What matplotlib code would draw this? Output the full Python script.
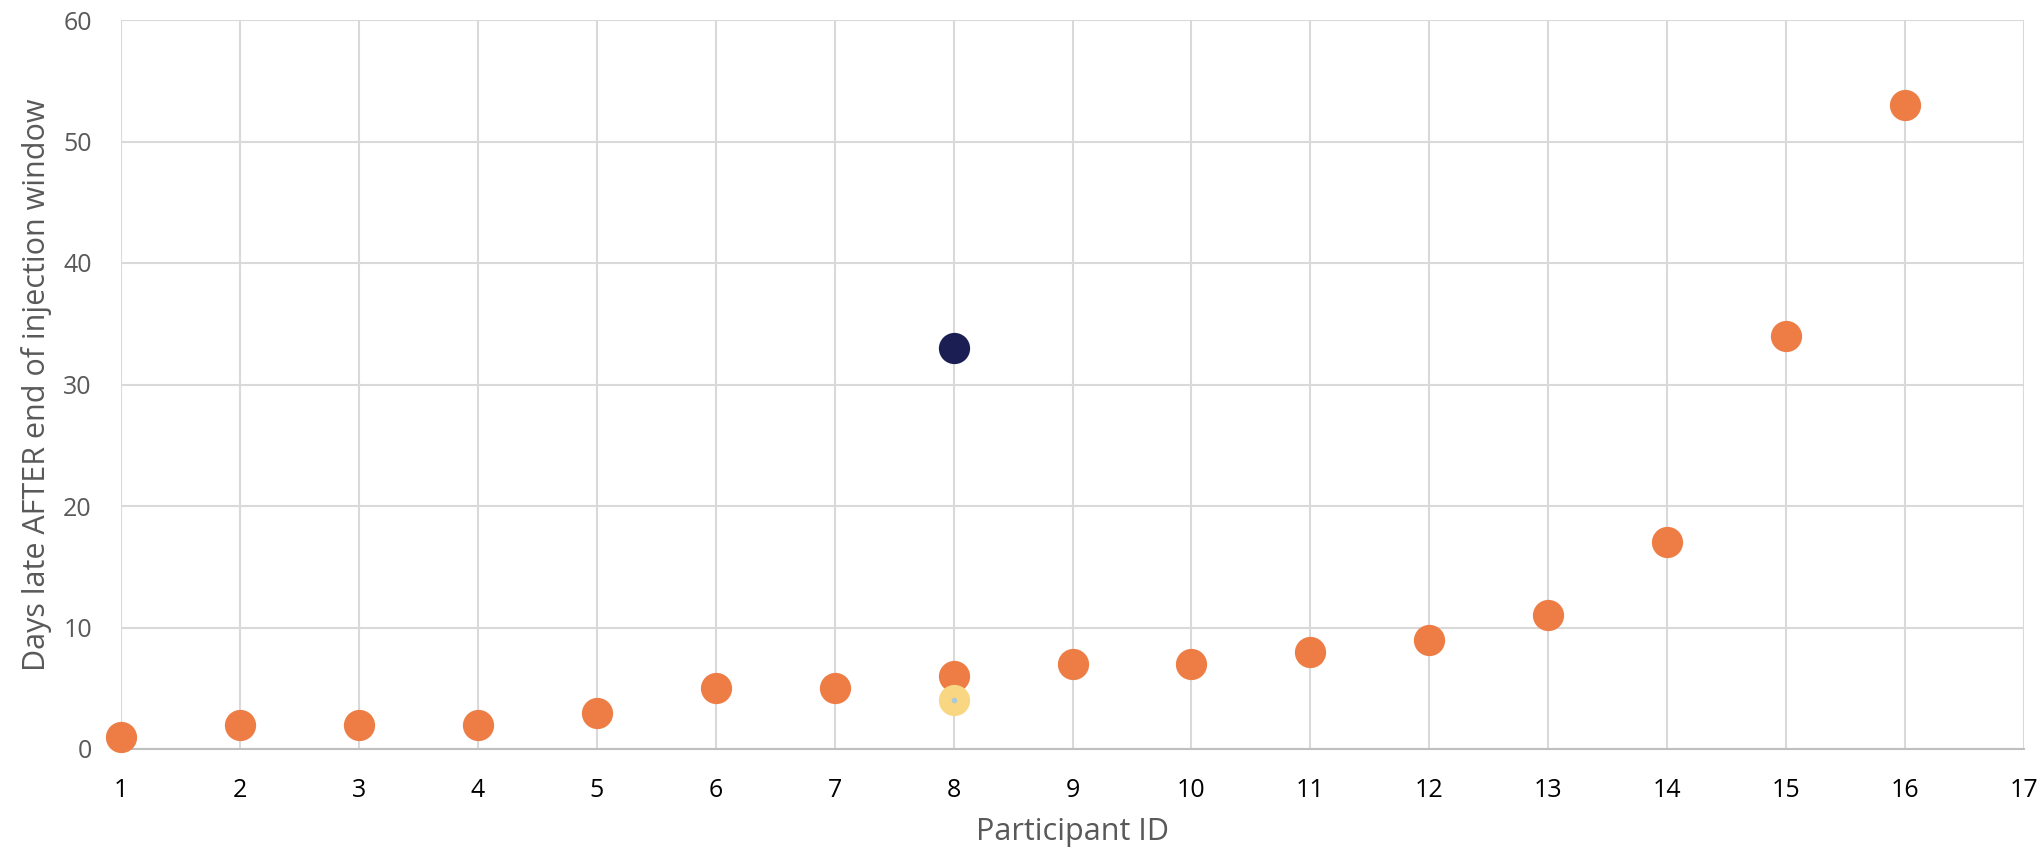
import matplotlib
matplotlib.use("Agg")
import matplotlib.pyplot as plt

# Data
participant_ids = list(range(1, 17))
days_late = [1, 2, 2, 2, 3, 5, 5, 6, 7, 7, 8, 9, 11, 17, 34, 53]
navy_x = [8]
navy_y = [33]
yellow_x = [8]
yellow_y = [4]
blue_x = [8]
blue_y = [4]
x_ticks = list(range(1, 18))
y_ticks = [0, 10, 20, 30, 40, 50, 60]

plt.rcParams['font.family'] = ['Open Sans', 'DejaVu Sans']

W, H, DPI = 2043, 858, 100
fig = plt.figure(figsize=(W / DPI, H / DPI), dpi=DPI)
ax = fig.add_axes([121 / W, 1 - 749 / H, (2024 - 121) / W, (749 - 20) / H])

ms = 22.5
ax.plot(participant_ids, days_late, 'o', color='#ED7D45', markersize=ms, markeredgewidth=0, zorder=3, clip_on=False)
ax.plot(navy_x, navy_y, 'o', color='#1A1E52', markersize=ms, markeredgewidth=0, zorder=4, clip_on=False)
ax.plot(yellow_x, yellow_y, 'o', color='#F8D682', markersize=ms, markeredgewidth=0, zorder=4, clip_on=False)
ax.plot(blue_x, blue_y, 'o', color='#A9C8D8', markersize=4, markeredgewidth=0, zorder=5, clip_on=False)

ax.set_xlim(1, 17)
ax.set_ylim(0, 60)
ax.set_xticks(x_ticks)
ax.set_yticks(y_ticks)
ax.grid(True, color='#D9D9D9', linewidth=1.5, zorder=0)
ax.set_axisbelow(True)
for s in ['top', 'right', 'left']:
    ax.spines[s].set_visible(False)
ax.spines['bottom'].set_color('#BFBFBF')
ax.spines['bottom'].set_linewidth(1.5)
ax.spines['bottom'].set_zorder(2)
ax.tick_params(axis='both', length=0)
ax.tick_params(axis='x', labelsize=18, labelcolor='#000000', pad=21)
ax.tick_params(axis='y', labelsize=18, labelcolor='#595959', pad=21)

ax.set_xlabel('Participant ID', fontsize=22, color='#595959', labelpad=10)
ax.set_ylabel('Days late AFTER end of injection window', fontsize=22, color='#595959', labelpad=8)

fig.savefig('out.png', dpi=DPI)
